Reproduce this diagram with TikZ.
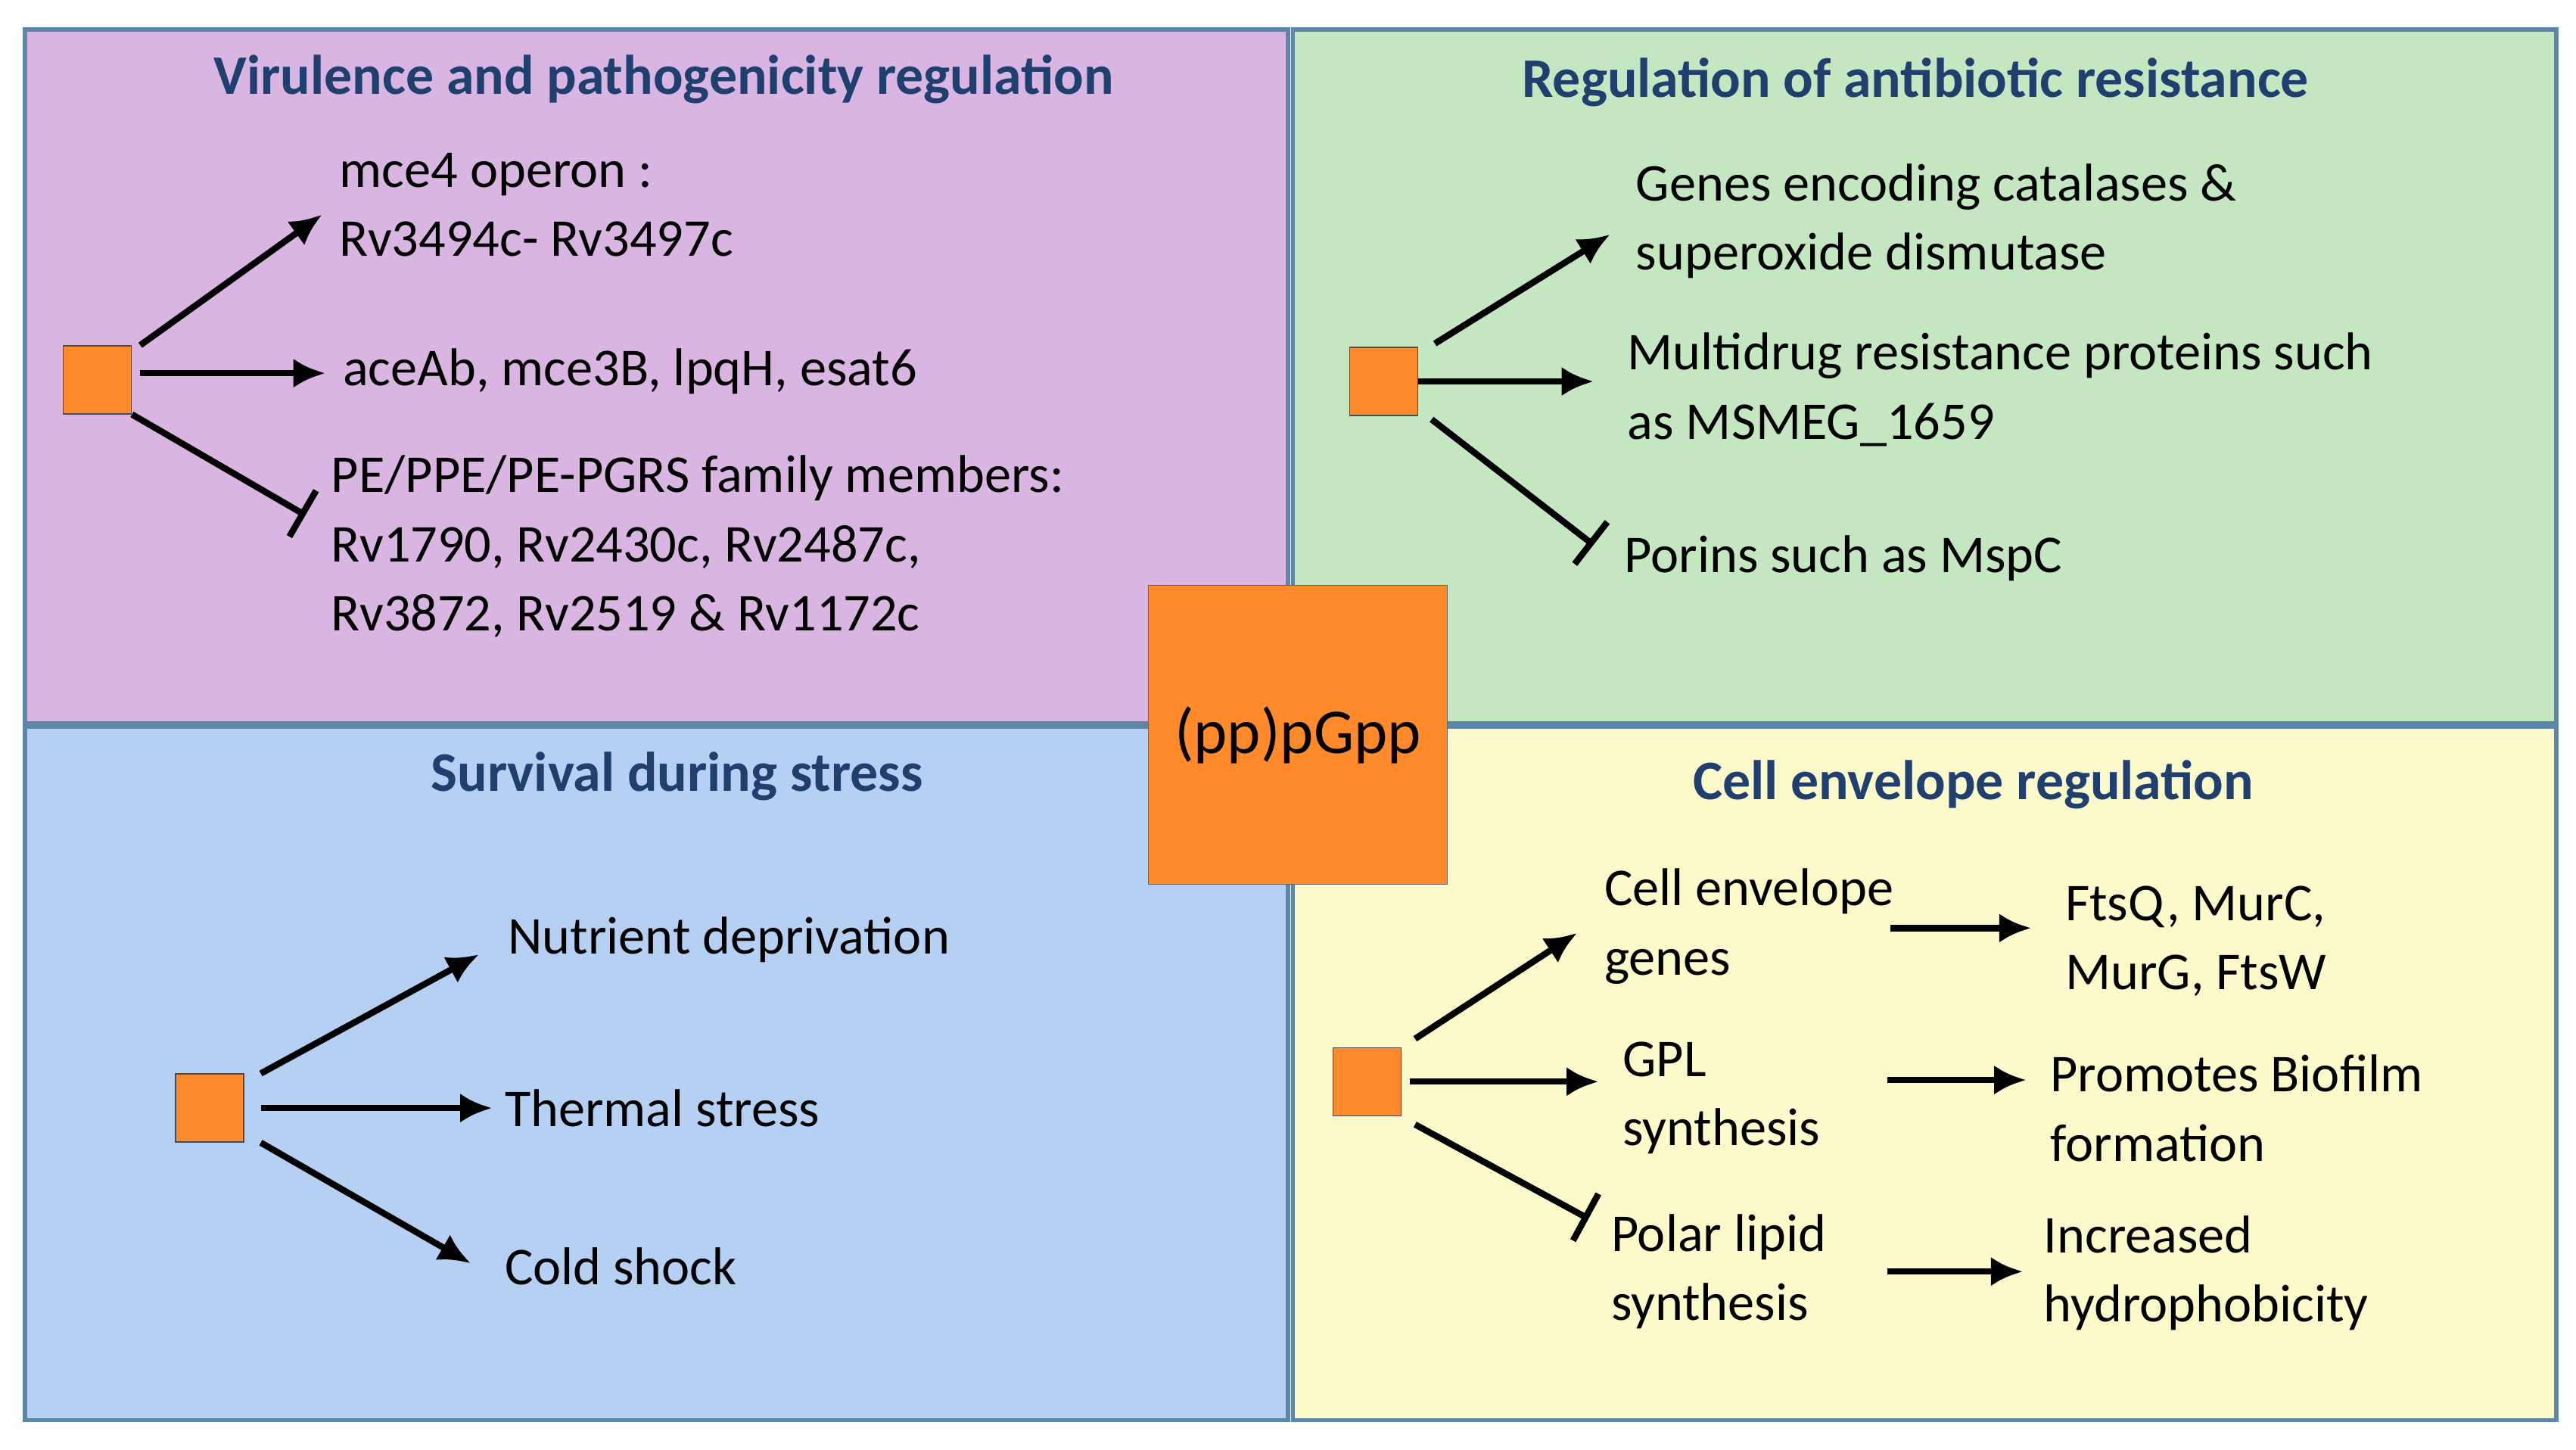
\documentclass[tikz,border=0pt]{standalone}
\usepackage{fontspec}
\setmainfont{Carlito}
\usetikzlibrary{arrows.meta,positioning}
\definecolor{violetbg}{HTML}{D9B5E1}
\definecolor{greenbg}{HTML}{C4E6C1}
\definecolor{bluebg}{HTML}{B5D0F3}
\definecolor{yellowbg}{HTML}{FCFACB}
\definecolor{ppgpp}{HTML}{FF8A2C}
\definecolor{titleblue}{HTML}{1F3F6E}
\definecolor{frame}{HTML}{5E86A8}
\tikzset{
  panel/.style={draw=frame,line width=1.6pt},
  title/.style={text=titleblue,font=\fontsize{21}{25}\selectfont\bfseries},
  lbl/.style={anchor=west,align=left,font=\fontsize{20}{26}\selectfont},
  sq/.style={draw=black!70,fill=ppgpp,minimum size=0.9cm,inner sep=0pt},
  act/.style={-{Latex[length=12pt,width=11pt]},line width=2.4pt},
  inh/.style={-{Bar[width=20pt]},line width=2.4pt}
}
\begin{document}
\begin{tikzpicture}[x=0.02182cm,y=-0.02182cm]
\useasboundingbox (0,0) rectangle (1560,878);
\fill[white] (0,0) rectangle (1560,878);

%Paneles
\draw[panel,fill=violetbg] (15,18) rectangle (780,438);
\draw[panel,fill=greenbg] (783,18) rectangle (1548,438);
\draw[panel,fill=bluebg] (15,440) rectangle (780,860);
\draw[panel,fill=yellowbg] (783,440) rectangle (1548,860);

\node[title] (t1) at (402,48) {Virulence and pathogenicity regulation};
\node[title] (t2) at (1160,50) {Regulation of antibiotic resistance};
\node[title] (t3) at (410,470) {Survival during stress};
\node[title] (t4) at (1195,475) {Cell envelope regulation};

%Virulencia
\node[sq] (s1) at (59,230) {};
\node[lbl] (v1) at (200,124) {mce4 operon :\\Rv3494c- Rv3497c};
\node[lbl] (v2) at (202,225) {aceAb, mce3B, lpqH, esat6};
\node[lbl] (v3) at (195,331) {PE/PPE/PE-PGRS family members:\\Rv1790, Rv2430c, Rv2487c,\\Rv3872, Rv2519 \& Rv1172c};
\coordinate (c1) at (195,130);
\coordinate (c2) at (197,226);
\coordinate (c3) at (185,312);
\draw[act] (s1.north east) ++(5,0) -- (c1);
\draw[act] (85,226) -- (c2);
\draw[inh] (s1.south east) -- (c3);

%Antibioticos
\node[sq] (s2) at (838,231) {};
\node[lbl] (a1) at (985,134) {Genes encoding catalases \&\\superoxide dismutase};
\node[lbl] (a2) at (980,236) {Multidrug resistance proteins such\\as MSMEG\_1659};
\node[lbl] (a3) at (978,338) {Porins such as MspC};
\coordinate (d1) at (975,142);
\coordinate (d2) at (965,231);
\coordinate (d3) at (965,330);
\draw[act] (s2.north east) ++(10,-2) -- (d1);
\draw[act] (s2.east) -- (d2);
\draw[inh] (s2.south east) ++(8,2) -- (d3);

%Estres
\node[sq] (s3) at (127,671) {};
\node[lbl] (e1) at (302,569) {Nutrient deprivation};
\node[lbl] (e2) at (300,671) {Thermal stress};
\node[lbl] (e3) at (300,767) {Cold shock};
\coordinate (f1) at (290,578);
\coordinate (f2) at (298,671);
\coordinate (f3) at (285,765);
\draw[act] (s3.north east) ++(10,0) -- (f1);
\draw[act] (s3.east) ++(10,0) -- (f2);
\draw[act] (s3.south east) ++(10,0) -- (f3);

%Envoltura
\node[sq] (s4) at (828,655) {};
\node[lbl] (g1) at (966,561) {Cell envelope\\genes};
\node[lbl] (g2) at (977,665) {GPL\\synthesis};
\node[lbl] (g3) at (970,770) {Polar lipid\\synthesis};
\node[lbl] (h1) at (1245,570) {FtsQ, MurC,\\MurG, FtsW};
\node[lbl] (h2) at (1236,671) {Promotes Biofilm\\formation};
\node[lbl] (h3) at (1232,771) {Increased\\hydrophobicity};
\coordinate (k1) at (955,565);
\coordinate (k2) at (968,655);
\coordinate (k3) at (962,738);
\draw[act] (s4.north east) ++(8,-5) -- (k1);
\draw[act] (s4.east) ++(5,0) -- (k2);
\draw[inh] (s4.south east) ++(8,5) -- (k3);
\draw[act] (1145,562) -- (1230,562);
\draw[act] (1143,654) -- (1227,654);
\draw[act] (1143,770) -- (1225,770);

%Centro
\node[draw=black!60,fill=ppgpp,minimum size=3.95cm,inner sep=0pt,
  font=\fontsize{24}{28}\selectfont] (pp) at (786,445) {(pp)pGpp};
\end{tikzpicture}
\end{document}
